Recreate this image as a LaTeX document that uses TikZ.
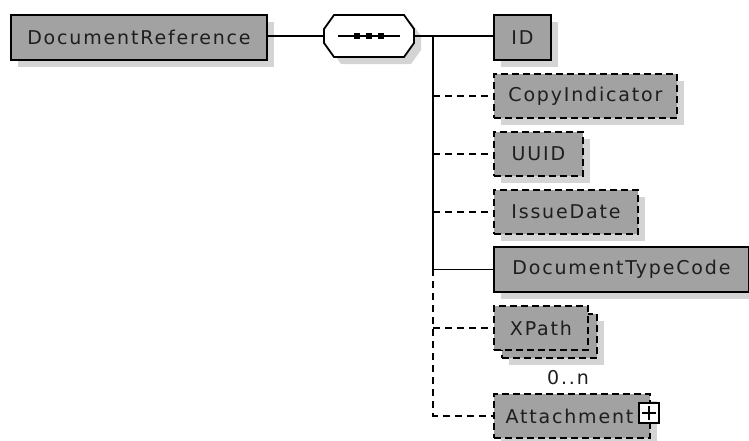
\documentclass[tikz,border=0pt]{standalone}
\usepackage{fontspec}
\newfontfamily\boxfont{DejaVu Sans}[LetterSpace=9.6]
\usetikzlibrary{shadows}
\definecolor{boxgray}{RGB}{162,162,162}
\definecolor{shadowgray}{RGB}{212,212,212}
\definecolor{txt}{RGB}{30,30,30}
\begin{document}
\begin{tikzpicture}[x=1pt,y=-1pt,
  shad/.style={drop shadow={shadow xshift=7pt,shadow yshift=-7pt,fill=shadowgray,opacity=1}},
  elem/.style={draw=black,line width=1.9pt,fill=boxgray,inner sep=0pt,anchor=north west,
    font=\boxfont\fontsize{19}{22}\selectfont,text=txt},
  optelem/.style={elem,dash pattern=on 7pt off 4pt},
  conn/.style={line width=1.7pt,black},
  optconn/.style={conn,dash pattern=on 7pt off 5pt}]
\useasboundingbox (0,0) rectangle (749,440);

% root element
\node[elem,shad,minimum width=256,minimum height=45] (docref) at (10,14) {DocumentReference};

% sequence compositor (octagon)
\node[inner sep=0pt,minimum width=90,minimum height=43] (seq) at (369,36) {};
\fill[shadowgray,shift={(7,7)}] (334,15) -- (404,15) -- (414,29) -- (414,43) -- (404,57) -- (334,57) -- (324,43) -- (324,29) -- cycle;
\draw[line width=1.8pt,fill=white] (334,15) -- (404,15) -- (414,29) -- (414,43) -- (404,57) -- (334,57) -- (324,43) -- (324,29) -- cycle;
\draw[line width=1.4pt] ([xshift=-31pt]seq.center) -- ([xshift=31pt]seq.center);
\foreach \dx in {-12,0,12}{
  \fill ([xshift=\dx pt]seq.center) ++(-3pt,-3pt) rectangle ++(6pt,6pt);
}

% children
\node[elem,shad,minimum width=57,minimum height=45] (id) at (493,14) {ID};
\node[optelem,shad,minimum width=183,minimum height=44] (ci) at (493,73) {CopyIndicator};
\node[optelem,shad,minimum width=89,minimum height=44] (uuid) at (493,131) {UUID};
\node[optelem,shad,minimum width=144,minimum height=44] (issue) at (493,189) {IssueDate};
\node[elem,shad,minimum width=255,minimum height=45] (dtc) at (493,246) {DocumentTypeCode};
\node[optelem,shad,minimum width=95,minimum height=44] (xpathback) at (501,313) {};
\node[optelem,minimum width=94,minimum height=44] (xpath) at (493,305) {XPath};
\node[font=\boxfont\fontsize{19}{22}\selectfont,text=txt,inner sep=0pt] (card) at (568,378) {0..n};
\node[optelem,shad,minimum width=156,minimum height=44] (att) at (493,393) {Attachment\hspace*{5pt}};

% expand box
\node[draw=black,fill=white,line width=1.3pt,minimum width=20,minimum height=20,inner sep=0pt] (plus) at (649,413) {};
\draw[line width=1.4pt] ([xshift=-7pt]plus.center) -- ([xshift=7pt]plus.center);
\draw[line width=1.4pt] ([yshift=-7pt]plus.center) -- ([yshift=7pt]plus.center);

% connectors
\coordinate (sp) at (433,36);
\draw[conn] (docref.east |- seq.west) -- (seq.west);
\draw[conn] (seq.east) -- (sp) -- (id.west |- sp);
\draw[conn] (sp) -- (sp |- dtc.west) -- (dtc.west);
\draw[optconn] (sp |- dtc.west) -- (sp |- att.west) -- (att.west);
\draw[optconn] (sp |- ci.west) -- (ci.west);
\draw[optconn] (sp |- uuid.west) -- (uuid.west);
\draw[optconn] (sp |- issue.west) -- (issue.west);
\draw[optconn] (sp |- xpath.west) -- (xpath.west);
\end{tikzpicture}
\end{document}
